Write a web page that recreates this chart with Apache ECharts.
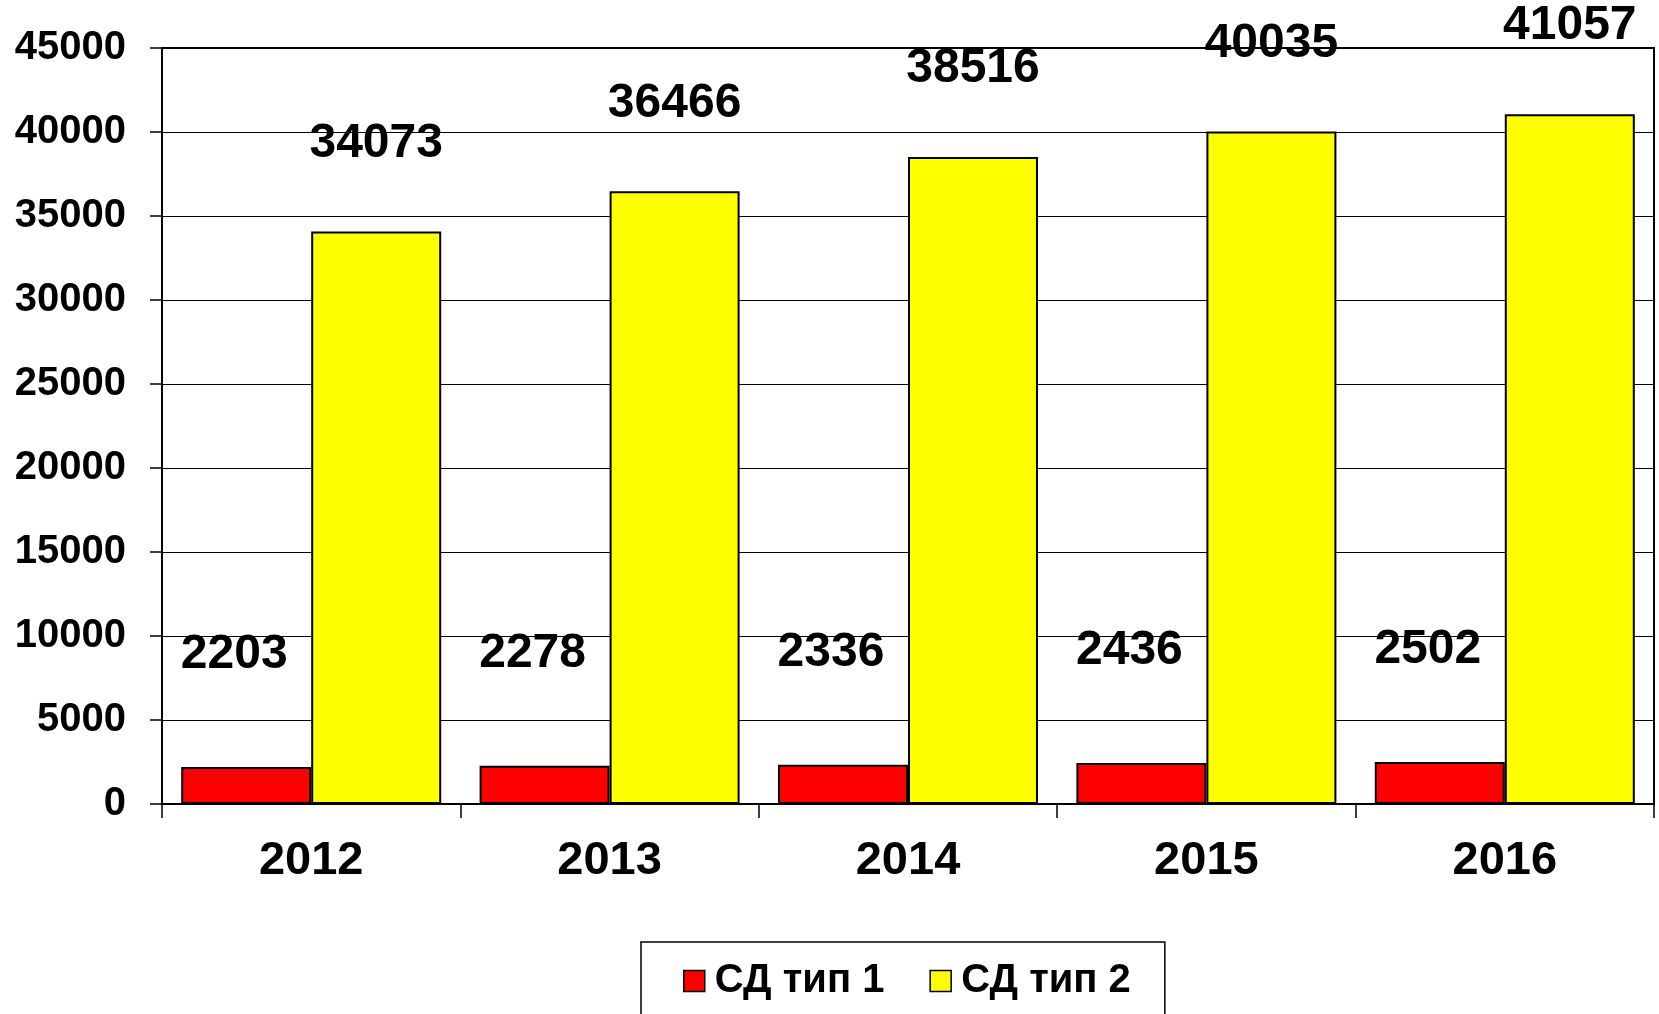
<!DOCTYPE html>
<html>
<head>
<meta charset="utf-8">
<script src="https://cdn.jsdelivr.net/npm/echarts@6/dist/echarts.min.js"></script>
<style>
html,body{margin:0;padding:0;background:#fff;}
#chart{width:1659px;height:1014px;}
</style>
</head>
<body>
<div id="chart"></div>
<script>
const categories = ['2012', '2013', '2014', '2015', '2016'];
const type1Values = [2203, 2278, 2336, 2436, 2502];
const type2Values = [34073, 36466, 38516, 40035, 41057];
const seriesNames = ['СД тип 1', 'СД тип 2'];

const FONT = '"Liberation Sans", Arial, sans-serif';
const chart = echarts.init(document.getElementById('chart'), null, {renderer: 'canvas'});
chart.setOption({
  backgroundColor: '#fff',
  animation: false,
  grid: {
    left: 162, right: 5, top: 48, bottom: 210,
    show: true, borderColor: '#000', borderWidth: 2, backgroundColor: 'transparent'
  },
  legend: {
    data: seriesNames.map(n => ({name: n, icon: 'rect'})),
    left: 641, top: 942,
    orient: 'horizontal',
    itemWidth: 21, itemHeight: 21, itemGap: 45,
    padding: [19, 34, 60, 42],
    borderColor: '#000', borderWidth: 1.5, backgroundColor: '#fff',
    itemStyle: {borderColor: '#000', borderWidth: 1.5},
    textStyle: {fontFamily: FONT, fontSize: 40, fontWeight: 'bold', color: '#000', padding: [0, 0, 0, 5]}
  },
  xAxis: {
    type: 'category',
    data: categories,
    axisLine: {lineStyle: {color: '#000', width: 2}},
    axisTick: {show: true, length: 14, lineStyle: {color: '#000', width: 1.5}},
    axisLabel: {margin: 34, fontFamily: FONT, fontSize: 47, fontWeight: 'bold', color: '#000'}
  },
  yAxis: {
    type: 'value',
    min: 0, max: 45000, interval: 5000,
    axisLine: {show: true, lineStyle: {color: '#000', width: 2}},
    axisTick: {show: true, length: 12, lineStyle: {color: '#000', width: 1.5}},
    splitLine: {lineStyle: {color: '#000', width: 1}},
    axisLabel: {margin: 36, fontFamily: FONT, fontSize: 40, fontWeight: 'bold', color: '#000',
      formatter: v => String(v)}
  },
  series: [
    {
      name: seriesNames[0], type: 'bar', data: type1Values,
      barWidth: 130, barGap: '0%',
      itemStyle: {color: '#FF0000', borderColor: '#000', borderWidth: 2},
      label: {show: true, position: 'top', distance: 88, offset: [-12, 0],
        fontFamily: FONT, fontSize: 48, fontWeight: 'bold', color: '#000'}
    },
    {
      name: seriesNames[1], type: 'bar', data: type2Values,
      barWidth: 130,
      itemStyle: {color: '#FFFF00', borderColor: '#000', borderWidth: 2},
      label: {show: true, position: 'top', distance: 64,
        fontFamily: FONT, fontSize: 48, fontWeight: 'bold', color: '#000'}
    }
  ]
});
</script>
</body>
</html>
